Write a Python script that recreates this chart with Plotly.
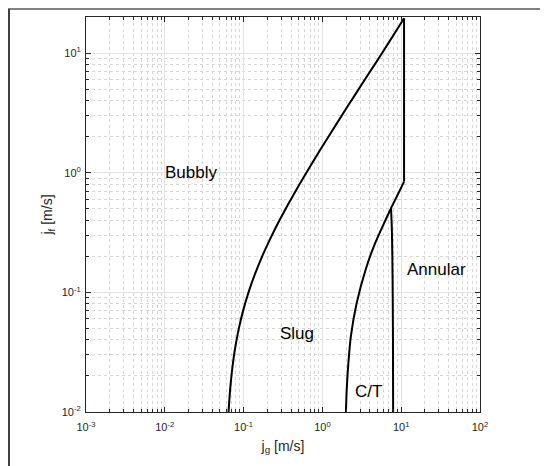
import math
import plotly.graph_objects as go

# Bubbly / Slug boundary
bs_jg = [0.0644, 0.0672, 0.0701, 0.0757, 0.0814, 0.0871, 0.0984, 0.1154, 0.1381, 0.1721, 0.2175, 0.2855,
         0.3705, 0.5122, 0.739, 1.1925, 2.043, 3.46, 5.73, 8.45, 10.87]
bs_jf = [0.01, 0.015, 0.02, 0.03, 0.04, 0.05, 0.07, 0.1, 0.14, 0.2, 0.28, 0.4,
         0.55, 0.8, 1.2, 2.0, 3.5, 6.0, 10.0, 15.0, 19.5]

# Slug / Churn boundary
sc_jg = [1.99, 2.03, 2.1, 2.3, 2.72, 3.55, 4.59, 5.89, 7.43, 9.68, 10.87]
sc_jf = [0.01, 0.015, 0.022, 0.043, 0.081, 0.156, 0.251, 0.363, 0.505, 0.718, 0.843]

# Churn / Annular boundary
ca_jg = [7.43, 7.6, 7.72, 7.8, 7.86, 7.9]
ca_jf = [0.505, 0.35, 0.2, 0.1, 0.04, 0.01]

# Annular vertical boundary
an_jg = [10.87, 10.87]
an_jf = [0.843, 19.5]

labels = ["Bubbly", "Slug", "C/T", "Annular"]
label_jg = [0.0218, 0.481, 3.82, 28.0]
label_jf = [1.0, 0.0455, 0.0148, 0.154]

x_ticks = [1e-3, 1e-2, 1e-1, 1e0, 1e1, 1e2]
x_ticktext = ["10<sup>-3</sup>", "10<sup>-2</sup>", "10<sup>-1</sup>", "10<sup>0</sup>", "10<sup>1</sup>", "10<sup>2</sup>"]
y_ticks = [1e-2, 1e-1, 1e0, 1e1]
y_ticktext = ["10<sup>-2</sup>", "10<sup>-1</sup>", "10<sup>0</sup>", "10<sup>1</sup>"]

x_minor = [m * 10 ** e for e in range(-3, 2) for m in range(2, 10)]
y_minor = [m * 10 ** e for e in range(-2, 2) for m in range(2, 10) if m * 10 ** e <= 20]

fig = go.Figure()
for xs, ys in [(bs_jg, bs_jf), (sc_jg, sc_jf), (ca_jg, ca_jf)]:
    fig.add_trace(go.Scatter(x=xs, y=ys, mode="lines",
                             line=dict(color="black", width=2, shape="spline", smoothing=0.5),
                             showlegend=False, hoverinfo="skip"))
fig.add_trace(go.Scatter(x=an_jg, y=an_jf, mode="lines", line=dict(color="black", width=2),
                         showlegend=False, hoverinfo="skip"))

for t, xv, yv in zip(labels, label_jg, label_jf):
    fig.add_annotation(x=math.log10(xv), y=math.log10(yv), text=t, showarrow=False,
                       font=dict(family="Liberation Sans, Arial", size=17, color="black"))

tickfont = dict(family="Liberation Sans, Arial", size=11, color="#262626")
titlefont = dict(family="Liberation Sans, Arial", size=14, color="#262626")
grid_major = "#e3e3e3"
grid_minor = "#d6d6d6"

common = dict(showline=True, linecolor="#262626", linewidth=1, mirror="ticks",
              ticks="inside", ticklen=5, tickcolor="#262626", tickfont=tickfont,
              showgrid=True, gridcolor=grid_major, gridwidth=1, zeroline=False, automargin=False)

fig.update_xaxes(type="log", range=[-3, 2], tickvals=x_ticks, ticktext=x_ticktext, ticklabelstandoff=5,
                 minor=dict(tickvals=x_minor, ticks="inside", ticklen=3, tickcolor="#262626", showgrid=True,
                            gridcolor=grid_minor, griddash="dot", gridwidth=1),
                 title=dict(text="j<sub>g</sub> [m/s]", font=titlefont, standoff=8), **common)
fig.update_yaxes(type="log", range=[-2, math.log10(20)], tickvals=y_ticks, ticktext=y_ticktext, ticklabelstandoff=2,
                 minor=dict(tickvals=y_minor, ticks="inside", ticklen=3, tickcolor="#262626", showgrid=True,
                            gridcolor=grid_minor, griddash="dot", gridwidth=1),
                 title=dict(text="j<sub>f</sub> [m/s]", font=titlefont, standoff=5), **common)

# page body adds an 8 px offset; margins compensate
L, T = 78, 9
pw, ph = 394, 395
R = 548 - L - pw
B = 466 - T - ph
# outer figure frame lines (top and left)
fig.add_shape(type="line", xref="paper", yref="paper", x0=-L / pw, x1=(548 - L) / pw,
              y0=(ph + T - 1) / ph, y1=(ph + T - 1) / ph, line=dict(color="#808080", width=2))
fig.add_shape(type="line", xref="paper", yref="paper", x0=(1 - L) / pw, x1=(1 - L) / pw,
              y0=(ph + T - 1) / ph, y1=-B / ph, line=dict(color="#404040", width=2))

fig.update_layout(width=548, height=466, margin=dict(l=L, r=R, t=T, b=B),
                  paper_bgcolor="white", plot_bgcolor="white",
                  font=dict(family="Liberation Sans, Arial", color="#262626"))
fig.write_html("out.html")
